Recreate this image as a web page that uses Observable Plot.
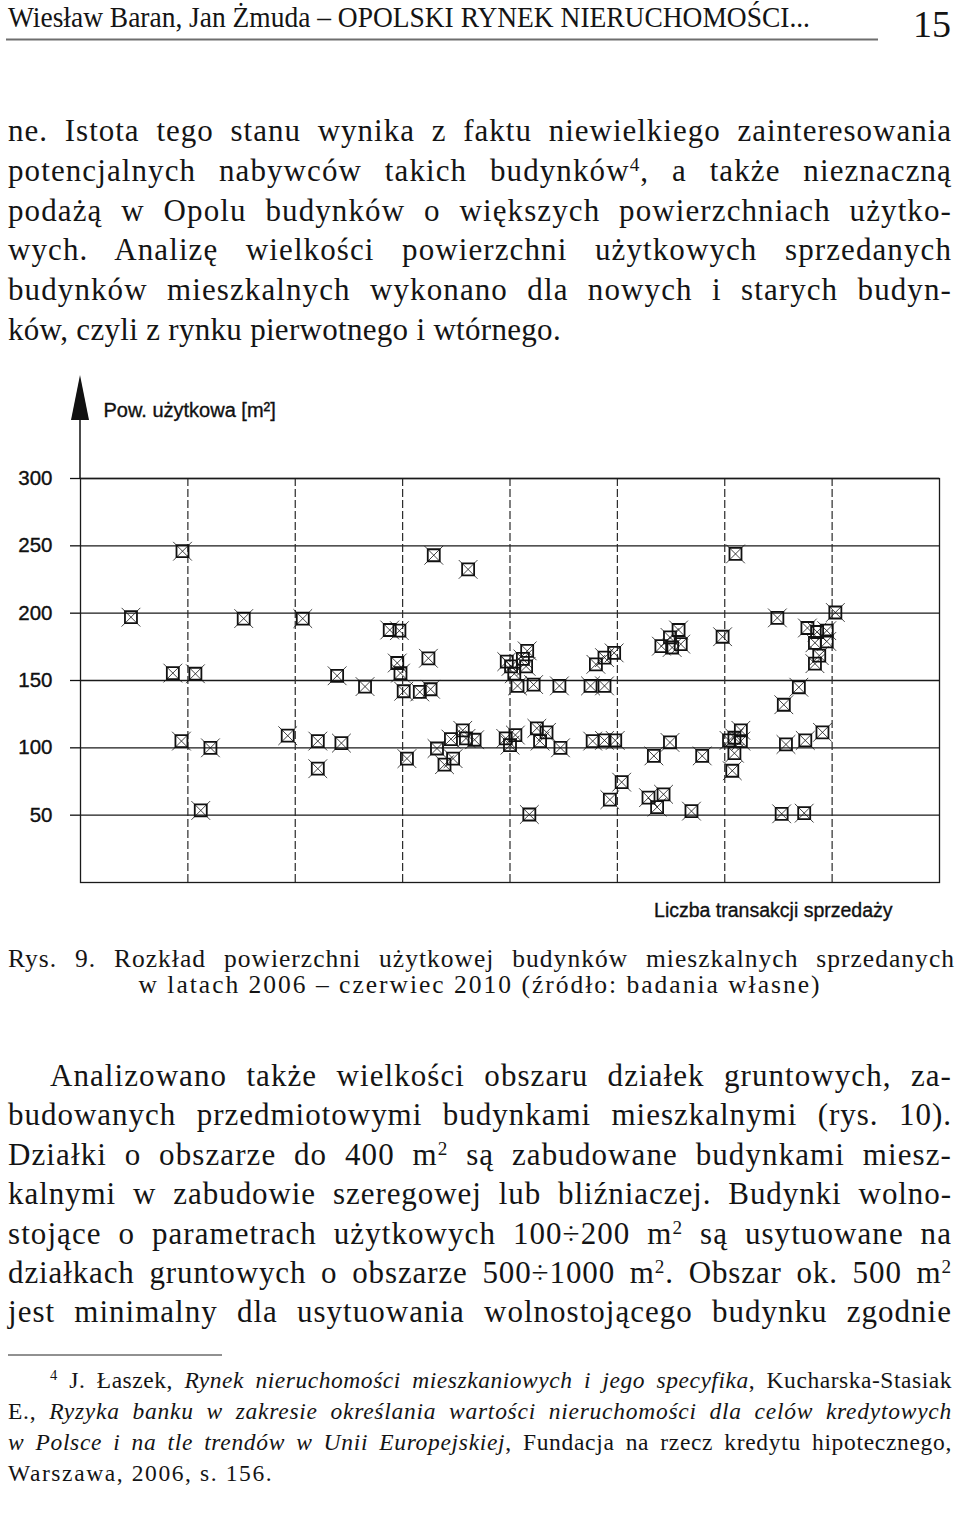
<!DOCTYPE html>
<html lang="pl"><head><meta charset="utf-8">
<script src="https://cdn.jsdelivr.net/npm/d3@7"></script>
<script src="https://cdn.jsdelivr.net/npm/@observablehq/plot@0.6"></script>
<style>
html,body{margin:0;padding:0;background:#fff;}
#page{position:relative;width:960px;height:1522px;overflow:hidden;background:#fff;}
#text{position:absolute;left:0;top:0;}
#chart{position:absolute;left:0;top:360px;}
#chart svg text{stroke:#111;stroke-width:0.35px;}
</style></head><body>
<div id="page"><svg id="text" width="960" height="1522"></svg><div id="chart"></div></div>
<script>
// ---- chart data ----
const transakcja = [4.7, 9.5, 8.6, 10.7, 9.4, 12.1, 11.2, 15.2, 19.3, 20.7,
  22.1, 22.1, 24.3, 23.9, 26.5, 28.8, 29.7, 29.5, 29.8, 30.1,
  30.4, 31.6, 32.6, 32.4, 32.9, 33.2, 33.9, 34.5, 34.7, 35.6,
  35.9, 36.1, 36.7, 39.6, 40.0, 40.5, 39.7, 40.1, 40.4, 41.2,
  41.5, 41.6, 40.7, 42.2, 41.8, 42.5, 43.4, 42.8, 44.7, 44.6,
  47.5, 48.8, 48.0, 48.8, 49.7, 47.7, 48.8, 49.8, 49.3, 50.4,
  52.9, 53.7, 54.3, 53.4, 54.9, 56.9, 57.9, 54.1, 54.9, 55.7,
  55.1, 55.9, 59.8, 61.0, 60.4, 60.9, 61.5, 61.5, 60.9, 60.7,
  64.9, 65.5, 66.9, 65.7, 67.5, 69.1, 65.3, 67.4, 67.7, 68.6,
  69.5, 68.4, 69.5, 68.8, 68.4, 70.3];
const powierzchnia = [197, 246, 155.5, 155, 105, 100, 53.5, 196, 109, 196,
  105, 84.5, 103.5, 153.5, 145.5, 187.5, 187, 163, 155.5, 142,
  92, 141.5, 143.5, 166.5, 243, 99.5, 87.5, 106.5, 92, 113,
  107, 232.5, 106, 107, 102, 109.5, 164, 160.5, 155, 166,
  160.5, 172, 146, 147, 50.5, 114.5, 111.5, 105, 100, 146,
  146, 146, 162, 167, 170.5, 105, 105.5, 105.5, 61.5, 74.5,
  63, 56, 65.5, 94, 104, 53, 94, 175.5, 182, 187.5,
  174.5, 177, 182.5, 244, 105.5, 107.5, 105, 113, 96, 83,
  196.5, 132, 145, 102.5, 105.5, 111.5, 51, 51.5, 189, 186,
  187, 178, 179, 168.5, 162.5, 200.5];
const yTicks = [50, 100, 150, 200, 250, 300];
const xDividers = [10, 20, 30, 40, 50, 60, 70];
const xDomain = [0, 80];
const yDomain = [0, 300];
const yTitle = "Pow. użytkowa [m²]";
const xTitle = "Liczba transakcji sprzedaży";

// ---- page text ----
const headerText = "Wiesław Baran, Jan Żmuda – OPOLSKI RYNEK NIERUCHOMOŚCI...";
const pageNumber = "15";
const para1 = [
  ["ne. Istota tego stanu wynika z faktu niewielkiego zainteresowania"],
  ["potencjalnych nabywców takich budynków", ["sup", "4"], ", a także nieznaczną"],
  ["podażą w Opolu budynków o większych powierzchniach użytko-"],
  ["wych. Analizę wielkości powierzchni użytkowych sprzedanych"],
  ["budynków mieszkalnych wykonano dla nowych i starych budyn-"],
  ["ków, czyli z rynku pierwotnego i wtórnego."]
];
const caption1 = ["Rys. 9. Rozkład powierzchni użytkowej budynków mieszkalnych sprzedanych"];
const caption2 = ["w latach 2006 – czerwiec 2010 (źródło: badania własne)"];
const para2 = [
  ["Analizowano także wielkości obszaru działek gruntowych, za-"],
  ["budowanych przedmiotowymi budynkami mieszkalnymi (rys. 10)."],
  ["Działki o obszarze do 400 m", ["sup", "2"], " są zabudowane budynkami miesz-"],
  ["kalnymi w zabudowie szeregowej lub bliźniaczej. Budynki wolno-"],
  ["stojące o parametrach użytkowych 100÷200 m", ["sup", "2"], " są usytuowane na"],
  ["działkach gruntowych o obszarze 500÷1000 m", ["sup", "2"], ". Obszar ok. 500 m", ["sup", "2"]],
  ["jest minimalny dla usytuowania wolnostojącego budynku zgodnie"]
];
const footnotes = [
  [["sup", "4"], " J. Łaszek, ", ["i", "Rynek nieruchomości mieszkaniowych i jego specyfika"], ", Kucharska-Stasiak"],
  ["E., ", ["i", "Ryzyka banku w zakresie określania wartości nieruchomości dla celów kredytowych"]],
  [["i", "w Polsce i na tle trendów w Unii Europejskiej"], ", Fundacja na rzecz kredytu hipotecznego,"],
  ["Warszawa, 2006, s. 156."]
];

const SERIF = "'Liberation Serif', 'Times New Roman', serif";
const SANS = "'Liberation Sans', Arial, sans-serif";
const NS = "http://www.w3.org/2000/svg";
const page = document.getElementById("text");

function addLine(segs, x, y, size, right, opts = {}) {
  const t = document.createElementNS(NS, "text");
  t.setAttribute("x", x); t.setAttribute("y", y);
  t.setAttribute("font-family", SERIF);
  t.setAttribute("font-size", size);
  t.setAttribute("fill", "#141414");
  t.style.whiteSpace = "pre";
  if (opts.anchor) t.setAttribute("text-anchor", opts.anchor);
  if (opts.ls) t.setAttribute("letter-spacing", opts.ls);
  let spaces = 0, chars = 0;
  for (const s of segs) {
    const ts = document.createElementNS(NS, "tspan");
    let txt;
    if (typeof s === "string") { txt = s; }
    else {
      txt = s[1];
      if (s[0] === "sup") { ts.setAttribute("baseline-shift", "super"); ts.setAttribute("font-size", size * 0.62); }
      if (s[0] === "i") ts.setAttribute("font-style", "italic");
    }
    ts.textContent = txt;
    spaces += (txt.match(/ /g) || []).length;
    chars += txt.length;
    t.appendChild(ts);
  }
  page.appendChild(t);
  if (right) {
    const target = right - x;
    const w = t.getComputedTextLength();
    if (w > target || spaces === 0) {
      t.setAttribute("textLength", target);
      t.setAttribute("lengthAdjust", "spacingAndGlyphs");
    } else {
      const ls = Math.min((target - w) * 0.5 / chars, opts.maxLs ?? 1.1);
      t.setAttribute("letter-spacing", ls);
      const w2 = t.getComputedTextLength();
      t.setAttribute("word-spacing", Math.max(0, (target - w2) / spaces));
    }
  }
  return t;
}
function addRule(x1, x2, y, stroke, w) {
  const l = document.createElementNS(NS, "line");
  l.setAttribute("x1", x1); l.setAttribute("x2", x2);
  l.setAttribute("y1", y); l.setAttribute("y2", y);
  l.setAttribute("stroke", stroke); l.setAttribute("stroke-width", w);
  page.appendChild(l);
}

// header
addLine([headerText], 8, 27, 29, 810);
addLine([pageNumber], 951, 37, 38, null, {anchor: "end"});
addRule(6, 878, 39.5, "#6e6e6e", 2.2);

// paragraph 1
const p1Base = [141, 181, 221, 260, 300, 340];
para1.forEach((segs, i) => addLine(segs, 8, p1Base[i], 31, i < para1.length - 1 ? 952 : null, {ls: i < para1.length - 1 ? 0 : 0.3}));

// caption
addLine(caption1, 8, 967, 25.5, 955, {maxLs: 1.4});
addLine(caption2, 480, 993, 25.5, null, {anchor: "middle", ls: 2.0});

// paragraph 2
const p2Base = [1086, 1125, 1165, 1204, 1244, 1283, 1322];
para2.forEach((segs, i) => addLine(segs, i === 0 ? 50 : 8, p2Base[i], 31, 952));

// footnotes
addRule(8, 222, 1355, "#222", 1);
const fBase = [1388, 1419, 1450, 1481];
footnotes.forEach((segs, i) => addLine(segs, i === 0 ? 50 : 8, fBase[i], 23.5, i < footnotes.length - 1 ? 952 : null, {ls: i < footnotes.length - 1 ? 0 : 1.6}));

// ---- chart ----
const points = transakcja.map((x, i) => ({x, y: powierzchnia[i]}));

const boxSymbol = {draw(ctx, size) {
  const r = Math.sqrt(size / Math.PI);
  ctx.moveTo(-r, -r); ctx.lineTo(r, -r); ctx.lineTo(r, r); ctx.lineTo(-r, r); ctx.closePath();
}};
const crossSymbol = {draw(ctx, size) {
  const r = Math.sqrt(size / Math.PI) * 1.3;
  ctx.moveTo(-r, -r); ctx.lineTo(r, r); ctx.moveTo(r, -r); ctx.lineTo(-r, r);
}};

function axisArrow(...args) {
  const dims = args.find(a => a && typeof a === "object" && "marginLeft" in a && "width" in a);
  const x = dims.marginLeft, top = dims.marginTop;
  const g = document.createElementNS(NS, "g");
  const line = document.createElementNS(NS, "line");
  line.setAttribute("x1", x); line.setAttribute("x2", x);
  line.setAttribute("y1", top); line.setAttribute("y2", top - 60);
  line.setAttribute("stroke", "#111"); line.setAttribute("stroke-width", 1.5);
  const tri = document.createElementNS(NS, "path");
  tri.setAttribute("d", `M${x},${top - 103}L${x + 9},${top - 58}L${x - 9},${top - 58}Z`);
  tri.setAttribute("fill", "#111");
  g.appendChild(line); g.appendChild(tri);
  return g;
}

const chart = Plot.plot({
  width: 960,
  height: 575,
  marginLeft: 80,
  marginRight: 21,
  marginTop: 118,
  marginBottom: 53,
  x: {domain: xDomain, axis: null},
  y: {domain: yDomain},
  style: {fontFamily: SANS, fontSize: "20px", color: "#111", background: "transparent", overflow: "visible"},
  marks: [
    Plot.gridY(yTicks, {stroke: "#1a1a1a", strokeOpacity: 1, strokeWidth: 1.3}),
    Plot.gridX(xDividers, {stroke: "#2a2a2a", strokeOpacity: 1, strokeWidth: 1.2, strokeDasharray: "8,3"}),
    Plot.frame({stroke: "#1a1a1a", strokeWidth: 1.3}),
    Plot.axisY(yTicks, {tickSize: 10, tickPadding: 18, label: null, fontSize: 20.5, strokeWidth: 1.3}),
    axisArrow,
    Plot.dot(points, {x: "x", y: "y", r: 7.2, symbol: crossSymbol, stroke: "#111", strokeWidth: 0.8, fill: "none"}),
    Plot.dot(points, {x: "x", y: "y", r: 6, symbol: boxSymbol, stroke: "#111", strokeWidth: 1.8, fill: "none"}),
    Plot.text([yTitle], {text: d => d, frameAnchor: "top-left", textAnchor: "start", lineAnchor: "middle", dx: 23, dy: -68, fontSize: 20, fill: "#111"}),
    Plot.text([xTitle], {text: d => d, frameAnchor: "bottom-right", textAnchor: "end", lineAnchor: "middle", dx: -47, dy: 28, fontSize: 19.5, fill: "#111"})
  ]
});
document.getElementById("chart").appendChild(chart);
</script>
</body></html>
